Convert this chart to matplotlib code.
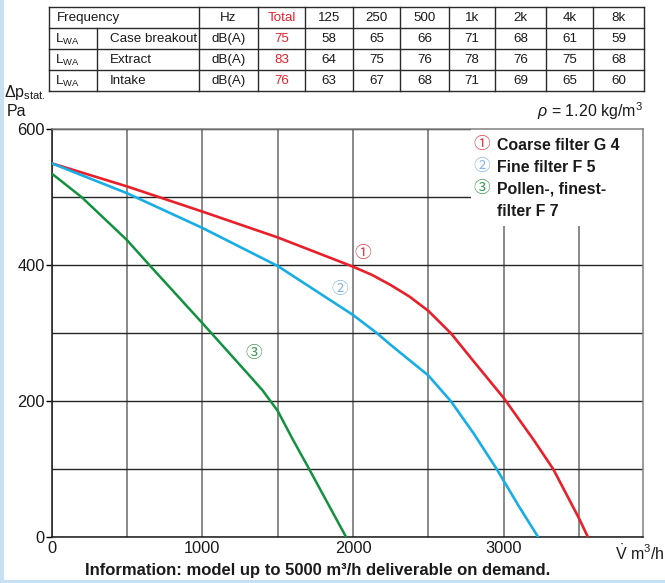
"""Fan curve chart: static pressure vs air volume for three filter grades,
with the sound power table above it."""

import matplotlib
matplotlib.use("Agg")
import matplotlib.pyplot as plt
from matplotlib import font_manager
from matplotlib.patches import Rectangle
from matplotlib.ticker import MultipleLocator

# ----------------------------------------------------------------------------
# Data
# ----------------------------------------------------------------------------
freq_bands = ["125", "250", "500", "1k", "2k", "4k", "8k"]
row_names = ["Case breakout", "Extract", "Intake"]
totals = [75, 83, 76]
band_levels = [
    [58, 65, 66, 71, 68, 61, 59],
    [64, 75, 76, 78, 76, 75, 68],
    [63, 67, 68, 71, 69, 65, 60],
]

# curve 1: coarse filter G 4
g4_flow = [0, 500, 1000, 1500, 2000, 2125, 2250, 2375, 2500, 2650, 2800, 3000, 3200,
           3330, 3500, 3560]
g4_dp = [550, 516, 479, 441, 398, 386, 371, 354, 333, 300, 259, 205, 143, 100, 28, 0]
# curve 2: fine filter F 5
f5_flow = [0, 500, 1000, 1500, 2000, 2160, 2250, 2500, 2650, 2800, 2955, 3100, 3230]
f5_dp = [550, 506, 455, 399, 327, 300, 283, 238, 200, 153, 100, 46, 0]
# curve 3: pollen / finest filter F 7
f7_flow = [0, 200, 500, 650, 1000, 1300, 1400, 1500, 1600, 1700, 1955]
f7_dp = [535, 500, 437, 400, 315, 241, 216, 186, 144, 104, 0]

legend_marks = ["\u2460", "\u2461", "\u2462"]
legend_lines = [["Coarse filter G 4"], ["Fine filter F 5"], ["Pollen-, finest-", "filter F 7"]]

RED, BLUE, GREEN = "#e8202a", "#19ade6", "#12913f"
RED_L, BLUE_L, GREEN_L = "#e23a4a", "#8ab8de", "#3f9a52"
TXT = "#1a1a1a"

names = {f.name for f in font_manager.fontManager.ttflist}
NARROW = "Liberation Sans Narrow" if "Liberation Sans Narrow" in names else None
SANS = "Liberation Sans"
CIRC = ["Noto Sans CJK JP", "DejaVu Sans"]
TAB_FONT = NARROW or SANS
TAB_SIZE = 10.5 if NARROW else 9.6
FOOT_SIZE = 12.8 if NARROW else 12.0

plt.rcParams["font.family"] = SANS
plt.rcParams["mathtext.fontset"] = "custom"
plt.rcParams["mathtext.rm"] = SANS
plt.rcParams["mathtext.it"] = SANS + ":italic"

W, H = 665, 583
fig = plt.figure(figsize=(W / 100, H / 100), dpi=100)

# ----------------------------------------------------------------------------
# Chart
# ----------------------------------------------------------------------------
x0, x1, ytop, ybot = 51.7, 643, 129.3, 537.3
ax = fig.add_axes([x0 / W, 1 - ybot / H, (x1 - x0) / W, (ybot - ytop) / H])
ax.set_xlim(0, 3925)
ax.set_ylim(0, 600)
ax.set_axisbelow(True)

ax.set_xticks([0, 1000, 2000, 3000])
ax.xaxis.set_minor_locator(MultipleLocator(500))
ax.set_yticks([0, 200, 400, 600])
ax.yaxis.set_minor_locator(MultipleLocator(100))
ax.grid(True, axis="x", which="both", color="#6a6a6a", lw=1.1)
ax.grid(True, axis="y", which="both", color="#262626", lw=1.0)
ax.tick_params(axis="x", which="both", length=0, pad=3, labelsize=11.8, labelcolor=TXT)
ax.tick_params(axis="y", which="major", length=4, width=1, pad=1, labelsize=11.8,
               labelcolor=TXT, direction="out")
ax.tick_params(axis="y", which="minor", length=0)
for s in ("top", "right"):
    ax.spines[s].set_color("#808080")
for s in ("left", "bottom"):
    ax.spines[s].set_color("#1a1a1a")
for s in ax.spines.values():
    s.set_linewidth(1.1)

# white box behind the legend
ax.add_patch(Rectangle((2780, 458), 3925 - 2780, 142, fc="white", ec="none", zorder=1.5))

ax.plot(g4_flow, g4_dp, color=RED, lw=1.9, zorder=3, solid_capstyle="butt")
ax.plot(f5_flow, f5_dp, color=BLUE, lw=1.9, zorder=3, solid_capstyle="butt")
ax.plot(f7_flow, f7_dp, color=GREEN, lw=1.8, zorder=3, solid_capstyle="butt")

ax.text(2067, 418, legend_marks[0], color=RED_L, fontsize=12, family=CIRC,
        ha="center", va="center")
ax.text(1909, 364, legend_marks[1], color=BLUE_L, fontsize=12, family=CIRC,
        ha="center", va="center")
ax.text(1343, 270, legend_marks[2], color=GREEN_L, fontsize=12, family=CIRC,
        ha="center", va="center")

# ----------------------------------------------------------------------------
# Overlay in pixel coordinates: table, legend, labels
# ----------------------------------------------------------------------------
ov = fig.add_axes([0, 0, 1, 1])
ov.set_xlim(0, W)
ov.set_ylim(H, 0)
ov.set_axis_off()

# light blue page frame
ov.plot([1.5, 1.5], [0, H], color="#c9dff2", lw=3, solid_capstyle="butt")
ov.plot([0, W], [H - 1.5, H - 1.5], color="#c9dff2", lw=3, solid_capstyle="butt")

# table
cols = [49, 97, 199, 258, 305, 353, 400, 449, 495, 546, 593, 644]
rows = [7, 28, 49, 70, 91]
lc = "#2a2a2a"
for y in rows:
    ov.plot([cols[0], cols[-1]], [y, y], color=lc, lw=1)
for i, x in enumerate(cols):
    top = rows[1] if i == 1 else rows[0]
    ov.plot([x, x], [top, rows[-1]], color=lc, lw=1)


def cell(x, y, s, color=TXT, ha="center"):
    ov.text(x, y, s, fontsize=TAB_SIZE, family=TAB_FONT, color=color, ha=ha, va="center")


rc = [(rows[i] + rows[i + 1]) / 2 + 0.5 for i in range(4)]
mid = [(cols[k] + cols[k + 1]) / 2 for k in range(len(cols) - 1)]
cell(57, rc[0], "Frequency", ha="left")
cell(mid[2], rc[0], "Hz")
cell(mid[3], rc[0], "Total", color=RED)
for j, b in enumerate(freq_bands):
    cell(mid[4 + j], rc[0], b)

for i, name in enumerate(row_names):
    yc = rc[i + 1]
    ov.text(55, yc, r"$\mathrm{L}_{\mathrm{WA}}$", fontsize=TAB_SIZE, color=TXT, va="center")
    cell(110, yc, name, ha="left")
    cell(mid[2], yc, "dB(A)")
    cell(mid[3], yc, str(totals[i]), color=RED)
    for j, v in enumerate(band_levels[i]):
        cell(mid[4 + j], yc, str(v))

# axis captions
ov.text(4, 93, r"$\Delta\mathrm{p}_{\mathrm{stat.}}$", fontsize=11.5, color=TXT, va="center")
ov.text(7, 112, "Pa", fontsize=11.5, color=TXT, va="center")
ov.text(643, 111, r"$\rho$ = 1.20 kg/m$^3$", fontsize=11.5, color=TXT, ha="right", va="center")
ov.text(615, 553, r"$\dot{\mathrm{V}}$ m$^3$/h", fontsize=11.5, color=TXT, va="center")

# legend
leg_y = [145, 167, 189]
leg_cols = [RED_L, BLUE_L, GREEN_L]
for mark, lines, col, y in zip(legend_marks, legend_lines, leg_cols, leg_y):
    ov.text(482, y, mark, fontsize=12, family=CIRC, color=col, ha="center", va="center")
    for k, line in enumerate(lines):
        ov.text(497, y + 22 * k, line, fontsize=11.4, fontweight="bold", color=TXT,
                va="center")

# footer note
ov.text(318, 570, "Information: model up to 5000 m\u00b3/h deliverable on demand.",
        fontsize=FOOT_SIZE, family=TAB_FONT, fontweight="bold", color=TXT,
        ha="center", va="center")

fig.savefig("out.png", dpi=100)
